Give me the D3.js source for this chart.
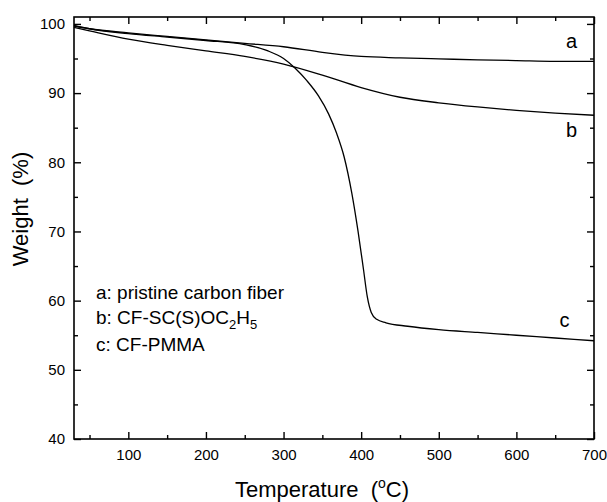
<!DOCTYPE html>
<html>
<head>
<meta charset="utf-8">
<script src="https://cdn.jsdelivr.net/npm/d3@7"></script>
<style>
  body { margin: 0; background: #fff; }
  svg text { font-family: "Liberation Sans", Arial, sans-serif; fill: #000; white-space: pre; }
</style>
</head>
<body>
<div id="chart"></div>
<script>
// TGA curves
const tempA = [30, 50, 100, 150, 200, 250, 300, 350, 400, 450, 500, 550, 600, 650, 700]
const weightA = [99.7, 99.3, 98.7, 98.2, 97.7, 97.2, 96.7, 95.9, 95.3, 95.1, 94.95, 94.8, 94.7, 94.6, 94.6]
const tempB = [30, 50, 100, 150, 200, 250, 300, 350, 400, 450, 500, 550, 600, 650, 700]
const weightB = [99.5, 99.0, 97.8, 96.9, 96.1, 95.3, 94.2, 92.6, 90.8, 89.4, 88.6, 88.0, 87.5, 87.1, 86.8]
const tempC = [30, 50, 100, 150, 200, 250, 280, 300, 315, 330, 345, 358, 368, 378, 388, 396, 403, 408, 413, 420, 432, 460, 500, 550, 600, 650, 700]
const weightC = [99.8, 99.3, 98.6, 98.1, 97.6, 97.0, 96.1, 95.0, 93.6, 91.8, 89.6, 87.0, 84.3, 80.8, 75.5, 70.0, 64.5, 60.5, 58.3, 57.3, 56.8, 56.3, 55.8, 55.4, 55.0, 54.6, 54.2]
const curveNames = ['a', 'b', 'c']
const legendLines = ['a: pristine carbon fiber', 'b: CF-SC(S)OC', 'c: CF-PMMA']
const xMajor = [100, 200, 300, 400, 500, 600, 700]
const xMinor = [50, 150, 250, 350, 450, 550, 650]
const yMajor = [40, 50, 60, 70, 80, 90, 100]
const yMinor = [45, 55, 65, 75, 85, 95]

const width = 607, height = 502
const mLeft = 74, mRight = 594, mTop = 17, mBottom = 439

const svg = d3.select('#chart').append('svg')
  .attr('width', width).attr('height', height)

const x = d3.scaleLinear().domain([30, 700]).range([mLeft, mRight])
const y = d3.scaleLinear().domain([40, 101]).range([mBottom, mTop])

// ticks pointing inward on all four sides
const addAxis = (axisFn, scale, vals, size, tx, ty, labels) => {
  const g = svg.append('g')
    .attr('transform', `translate(${tx},${ty})`)
    .call(axisFn(scale).tickValues(vals).tickSizeInner(size).tickSizeOuter(0)
      .tickPadding(labels ? 4 : 0).tickFormat(labels ? d3.format('d') : ''))
  g.select('.domain').remove()
  g.selectAll('line').attr('stroke', '#000').attr('stroke-width', 1.4)
  g.selectAll('text').style('font-size', '15px')
  return g
}
const bx = addAxis(d3.axisBottom, x, xMajor, -7, 0, mBottom, true)
bx.selectAll('text').attr('dy', 0).attr('y', 21)
addAxis(d3.axisBottom, x, xMinor, -4, 0, mBottom, false)
addAxis(d3.axisTop, x, xMajor, -7, 0, mTop, false)
addAxis(d3.axisTop, x, xMinor, -4, 0, mTop, false)
const ly = addAxis(d3.axisLeft, y, yMajor, -7, mLeft, 0, true)
ly.selectAll('text').attr('x', -9)
addAxis(d3.axisLeft, y, yMinor, -4, mLeft, 0, false)
addAxis(d3.axisRight, y, yMajor, -7, mRight, 0, false)
addAxis(d3.axisRight, y, yMinor, -4, mRight, 0, false)

svg.append('rect')
  .attr('x', mLeft).attr('y', mTop)
  .attr('width', mRight - mLeft).attr('height', mBottom - mTop)
  .attr('fill', 'none').attr('stroke', '#000').attr('stroke-width', 1.6)

const line = d3.line()
  .x(d => x(d[0])).y(d => y(d[1]))
  .curve(d3.curveMonotoneX)

const series = [
  d3.zip(tempA, weightA),
  d3.zip(tempB, weightB),
  d3.zip(tempC, weightC)
]
svg.selectAll('path.tga')
  .data(series)
  .enter().append('path')
  .attr('class', 'tga')
  .attr('d', line)
  .attr('fill', 'none')
  .attr('stroke', '#000')
  .attr('stroke-width', 1.3)

// curve labels near the right end
const labelPos = [[671, 96.5], [671, 83.7], [662, 56.2]]
svg.selectAll('text.curve')
  .data(curveNames)
  .enter().append('text')
  .attr('class', 'curve')
  .attr('x', (d, i) => x(labelPos[i][0]))
  .attr('y', (d, i) => y(labelPos[i][1]))
  .attr('text-anchor', 'middle')
  .style('font-size', '20px')
  .text(d => d)

// legend text
const leg = svg.append('g').attr('transform', 'translate(96,0)')
leg.append('text').attr('y', 299).style('font-size', '19px').text(legendLines[0])
const lb = leg.append('text').attr('y', 324).style('font-size', '19px')
lb.append('tspan').text(legendLines[1])
lb.append('tspan').attr('dy', 5).style('font-size', '13px').text('2')
lb.append('tspan').attr('dy', -5).text('H')
lb.append('tspan').attr('dy', 5).style('font-size', '13px').text('5')
leg.append('text').attr('y', 351).style('font-size', '19px').text(legendLines[2])

// axis titles
const xt = svg.append('text')
  .attr('x', 322).attr('y', 497)
  .attr('text-anchor', 'middle')
  .style('font-size', '22px')
xt.append('tspan').text('Temperature  (')
xt.append('tspan').attr('dy', -9).style('font-size', '14px').text('o')
xt.append('tspan').attr('dy', 9).text('C)')

svg.append('text')
  .attr('transform', 'translate(28,209) rotate(-90)')
  .attr('text-anchor', 'middle')
  .style('font-size', '22px')
  .text('Weight  (%)')
</script>
</body>
</html>
